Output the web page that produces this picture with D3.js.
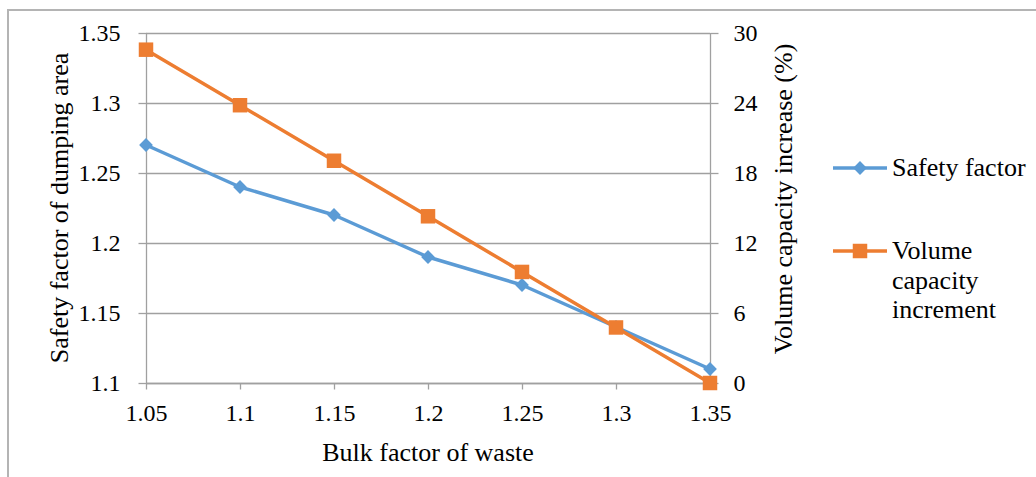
<!DOCTYPE html>
<html>
<head>
<meta charset="utf-8">
<script src="https://cdn.jsdelivr.net/npm/d3@7"></script>
<style>
  html, body { margin: 0; padding: 0; background: #fff; }
  svg { display: block; }
  text { font-family: "Liberation Serif", "Times New Roman", Tinos, "DejaVu Serif", serif; fill: #000; }
</style>
</head>
<body>
<svg id="chart" width="1036" height="477"></svg>
<script>
// Bulk factor of waste (categories on the x axis)
const bulkFactors = [1.05, 1.1, 1.15, 1.2, 1.25, 1.3, 1.35];
// Safety factor of the dumping area (left axis)
const safetyFactor = [1.27, 1.24, 1.22, 1.19, 1.17, 1.14, 1.11];
// Volume capacity increment in percent (right axis)
const volumeIncrement = [28.57, 23.81, 19.05, 14.29, 9.52, 4.76, 0];
// Axis tick values
const leftTicks = [1.1, 1.15, 1.2, 1.25, 1.3, 1.35];
const rightTicks = [0, 6, 12, 18, 24, 30];

const blue = "#5b9bd5", orange = "#ed7d31", grid = "#a0a0a0";
const serif = '"Liberation Serif", "Times New Roman", Tinos, "DejaVu Serif", serif';

const svg = d3.select("#chart");

// outer chart frame
svg.append("rect")
  .attr("x", 8).attr("y", 10).attr("width", 1100).attr("height", 500)
  .attr("fill", "none").attr("stroke", "#b4b4b4").attr("stroke-width", 2);

const plot = { left: 146, right: 710, top: 33, bottom: 383 };

const x = d3.scalePoint().domain(bulkFactors).range([plot.left, plot.right]);
const yL = d3.scaleLinear().domain([1.1, 1.35]).range([plot.bottom, plot.top]);
const yR = d3.scaleLinear().domain([0, 30]).range([plot.bottom, plot.top]);

// horizontal gridlines
svg.append("g").selectAll("line").data(leftTicks).join("line")
  .attr("x1", plot.left).attr("x2", plot.right)
  .attr("y1", d => Math.round(yL(d)) + 0.5).attr("y2", d => Math.round(yL(d)) + 0.5)
  .attr("stroke", grid).attr("stroke-width", 1.3);

// left axis
const axisL = svg.append("g").attr("transform", `translate(${plot.left + 0.5},0)`)
  .call(d3.axisLeft(yL).tickValues(leftTicks).tickFormat(d3.format("")).tickSize(8).tickPadding(18));
// right axis
const axisR = svg.append("g").attr("transform", `translate(${plot.right + 0.5},0)`)
  .call(d3.axisRight(yR).tickValues(rightTicks).tickSize(8).tickPadding(15));
// bottom axis
const axisB = svg.append("g").attr("transform", `translate(0,${plot.bottom + 0.5})`)
  .call(d3.axisBottom(x).tickFormat(d3.format("")).tickSize(6).tickPadding(14));

[axisL, axisR, axisB].forEach(a => {
  a.attr("font-family", serif);
  a.select(".domain").attr("stroke", grid).attr("stroke-width", 1.3);
  a.selectAll(".tick line").attr("stroke", grid).attr("stroke-width", 1.3);
  a.selectAll(".tick text").style("font-family", serif).style("font-size", "24px").attr("fill", "#000");
});
axisB.select(".domain").attr("d", `M${plot.left},0H${plot.right}`);
axisL.select(".domain").attr("d", `M0,${plot.top}V${plot.bottom}`);
axisR.select(".domain").attr("d", `M0,${plot.top}V${plot.bottom}`);

// axis titles
svg.append("text")
  .attr("x", 428).attr("y", 461)
  .attr("text-anchor", "middle").style("font-size", "26px")
  .text("Bulk factor of waste");
svg.append("text")
  .attr("transform", `translate(68,${(plot.top + plot.bottom) / 2}) rotate(-90)`)
  .attr("text-anchor", "middle").style("font-size", "26px")
  .text("Safety factor of dumping area");
svg.append("text")
  .attr("transform", `translate(792,199) rotate(-90)`)
  .attr("text-anchor", "middle").style("font-size", "26px")
  .text("Volume capacity increase (%)");

// series lines
const lineL = d3.line().x((d, i) => x(bulkFactors[i])).y(d => yL(d));
const lineR = d3.line().x((d, i) => x(bulkFactors[i])).y(d => yR(d));

svg.append("path").datum(safetyFactor).attr("d", lineL)
  .attr("fill", "none").attr("stroke", blue).attr("stroke-width", 3.5).attr("stroke-linejoin", "round");
svg.append("path").datum(volumeIncrement).attr("d", lineR)
  .attr("fill", "none").attr("stroke", orange).attr("stroke-width", 3.5).attr("stroke-linejoin", "round");

// markers: rotated squares as diamonds, plain squares
const diamondSize = 95, squareSize = 210;
svg.append("g").selectAll("path").data(safetyFactor).join("path")
  .attr("transform", (d, i) => `translate(${x(bulkFactors[i])},${yL(d)}) rotate(45)`)
  .attr("d", d3.symbol().type(d3.symbolSquare).size(diamondSize)).attr("fill", blue);
svg.append("g").selectAll("path").data(volumeIncrement).join("path")
  .attr("transform", (d, i) => `translate(${x(bulkFactors[i])},${yR(d)})`)
  .attr("d", d3.symbol().type(d3.symbolSquare).size(squareSize)).attr("fill", orange);

// legend
const legend = svg.append("g");
const legendItems = [
  { color: blue, shape: "diamond", y: 168, lines: ["Safety factor"] },
  { color: orange, shape: "square", y: 251, lines: ["Volume", "capacity", "increment"] }
];
legendItems.forEach(item => {
  legend.append("line").attr("x1", 833).attr("x2", 887).attr("y1", item.y).attr("y2", item.y)
    .attr("stroke", item.color).attr("stroke-width", 3.5);
  legend.append("path")
    .attr("transform", item.shape === "diamond" ? `translate(860,${item.y}) rotate(45)` : `translate(860,${item.y})`)
    .attr("d", d3.symbol().type(d3.symbolSquare).size(item.shape === "diamond" ? diamondSize : squareSize))
    .attr("fill", item.color);
  const t = legend.append("text").attr("x", 892).attr("y", item.y + 8).style("font-size", "26px");
  item.lines.forEach((s, k) => {
    t.append("tspan").attr("x", 892).attr("dy", k === 0 ? 0 : 29.5).text(s);
  });
});
</script>
</body>
</html>
